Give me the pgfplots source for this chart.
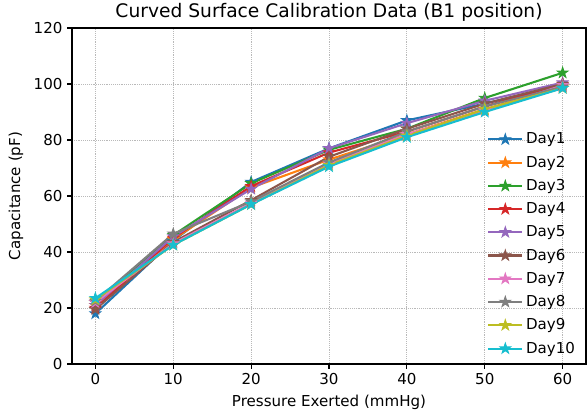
\documentclass[border=0pt]{standalone}
\usepackage{pgfplots}
\pgfplotsset{compat=1.18}
\usepackage{fontspec}
\setmainfont{DejaVu Sans}
\definecolor{c1}{HTML}{1F77B4}
\definecolor{c2}{HTML}{FF7F0E}
\definecolor{c3}{HTML}{2CA02C}
\definecolor{c4}{HTML}{D62728}
\definecolor{c5}{HTML}{9467BD}
\definecolor{c6}{HTML}{8C564B}
\definecolor{c7}{HTML}{E377C2}
\definecolor{c8}{HTML}{7F7F7F}
\definecolor{c9}{HTML}{BCBD22}
\definecolor{c10}{HTML}{17BECF}
\pgfdeclareplotmark{fstar}{%
  \pgfpathmoveto{\pgfpointpolar{90}{\pgfplotmarksize}}%
  \pgfpathlineto{\pgfpointpolar{126}{0.382\pgfplotmarksize}}%
  \pgfpathlineto{\pgfpointpolar{162}{\pgfplotmarksize}}%
  \pgfpathlineto{\pgfpointpolar{198}{0.382\pgfplotmarksize}}%
  \pgfpathlineto{\pgfpointpolar{234}{\pgfplotmarksize}}%
  \pgfpathlineto{\pgfpointpolar{270}{0.382\pgfplotmarksize}}%
  \pgfpathlineto{\pgfpointpolar{306}{\pgfplotmarksize}}%
  \pgfpathlineto{\pgfpointpolar{342}{0.382\pgfplotmarksize}}%
  \pgfpathlineto{\pgfpointpolar{18}{\pgfplotmarksize}}%
  \pgfpathlineto{\pgfpointpolar{54}{0.382\pgfplotmarksize}}%
  \pgfpathclose
  \pgfusepathqfillstroke
}
\begin{document}
\begin{tikzpicture}
\begin{axis}[
  name=ax,
  scale only axis,
  width=385.5pt, height=252pt,
  xmin=-3, xmax=63, ymin=0, ymax=120,
  xtick={0,10,...,60}, ytick={0,20,...,120},
  tick align=outside, tick pos=left,
  major tick length=3.6pt,
  tick style={black, line width=0.83pt},
  axis line style={line width=0.83pt},
  grid=major,
  grid style={densely dotted, gray!55, line width=0.6pt},
  /pgf/number format/assume math mode=true,
  ticklabel style={font=\fontsize{11.3}{13}\selectfont},
  label style={font=\fontsize{11.3}{13}\selectfont},
  xlabel style={yshift=-1pt},
  ylabel style={yshift=1pt},
  xlabel={Pressure Exerted (mmHg)},
  ylabel={Capacitance (pF)},
  title={Curved Surface Calibration Data (B1 position)},
  title style={font=\fontsize{14}{16}\selectfont, yshift=-4.5pt},
  every axis plot/.append style={line width=1.56pt, mark=fstar, mark size=4.3pt, mark options={solid, line width=0.6pt}},
  legend style={draw=none, fill=none, at={(0.992,0.357)}, anchor=east,
    font=\fontsize{11.3}{13}\selectfont, row sep=3.6pt},
  legend cell align=left,
  legend image code/.code={\draw[#1, mark=none] (0pt,0pt) -- (25.5pt,0pt); \draw[#1, mark repeat=2, mark phase=2] plot coordinates {(0pt,0pt) (12.75pt,0pt) (25.5pt,0pt)};},
]
\addplot[color=c1] coordinates {(0,18) (10,44) (20,65) (30,77) (40,87) (50,93) (60,99.5)};
\addlegendentry{Day1}
\addplot[color=c2] coordinates {(0,21) (10,44.5) (20,63) (30,73) (40,82) (50,91) (60,99)};
\addlegendentry{Day2}
\addplot[color=c3] coordinates {(0,22) (10,46) (20,64.5) (30,76.5) (40,84) (50,95) (60,104)};
\addlegendentry{Day3}
\addplot[color=c4] coordinates {(0,20) (10,45) (20,63.5) (30,75.5) (40,83) (50,92) (60,100)};
\addlegendentry{Day4}
\addplot[color=c5] coordinates {(0,21) (10,45.5) (20,62.5) (30,77) (40,86) (50,94) (60,100.5)};
\addlegendentry{Day5}
\addplot[color=c6] coordinates {(0,19.5) (10,43.5) (20,58.5) (30,74) (40,84) (50,93) (60,100)};
\addlegendentry{Day6}
\addplot[color=c7] coordinates {(0,22) (10,43) (20,57.5) (30,71.5) (40,82) (50,90.5) (60,99.5)};
\addlegendentry{Day7}
\addplot[color=c8] coordinates {(0,22.5) (10,46.5) (20,58) (30,72) (40,83) (50,92) (60,99)};
\addlegendentry{Day8}
\addplot[color=c9] coordinates {(0,23) (10,42.5) (20,57) (30,71) (40,81.5) (50,91) (60,98.5)};
\addlegendentry{Day9}
\addplot[color=c10] coordinates {(0,23.5) (10,42.5) (20,57) (30,70.5) (40,81) (50,90) (60,98.5)};
\addlegendentry{Day10}
\end{axis}
\pgfresetboundingbox
\path ([shift={(-54pt,-39.75pt)}]ax.south west) rectangle ([shift={(0.75pt,21pt)}]ax.north east);
\end{tikzpicture}
\end{document}
